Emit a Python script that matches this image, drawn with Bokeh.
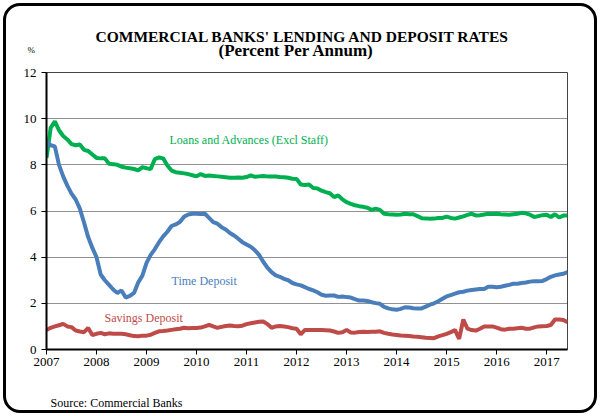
from bokeh.plotting import figure
from bokeh.models import Range1d, FixedTicker, Label, Title
from bokeh.embed import file_html
from bokeh.resources import INLINE
import numpy as np

# Monthly data, Jan 2007 .. Jun 2017
start_year = 2007
year_ticks = [2007, 2008, 2009, 2010, 2011, 2012, 2013, 2014, 2015, 2016, 2017]
y_ticks = [0, 2, 4, 6, 8, 10, 12]

loans = [
    8.30, 9.60, 9.88, 9.50, 9.25, 9.10, 8.90, 8.85, 8.88, 8.65, 8.60, 8.45,   # 2007
    8.30, 8.28, 8.28, 8.05, 8.03, 8.00, 7.92, 7.88, 7.85, 7.82, 7.76, 7.90,   # 2008
    7.85, 7.82, 8.25, 8.32, 8.28, 7.97, 7.75, 7.68, 7.66, 7.63, 7.60, 7.55,   # 2009
    7.50, 7.60, 7.52, 7.54, 7.52, 7.50, 7.48, 7.46, 7.44, 7.44, 7.45, 7.44,   # 2010
    7.47, 7.54, 7.48, 7.50, 7.52, 7.50, 7.50, 7.49, 7.47, 7.46, 7.44, 7.40,   # 2011
    7.39, 7.15, 7.13, 7.15, 7.00, 6.98, 6.88, 6.82, 6.77, 6.60, 6.68, 6.50,   # 2012
    6.38, 6.31, 6.25, 6.21, 6.18, 6.14, 6.05, 6.10, 6.05, 5.88, 5.86, 5.85,   # 2013
    5.84, 5.85, 5.88, 5.86, 5.86, 5.78, 5.69, 5.68, 5.66, 5.67, 5.70, 5.70,   # 2014
    5.76, 5.70, 5.67, 5.72, 5.77, 5.83, 5.88, 5.81, 5.82, 5.85, 5.88, 5.87,   # 2015
    5.88, 5.86, 5.85, 5.84, 5.86, 5.88, 5.92, 5.90, 5.84, 5.74, 5.78, 5.82,   # 2016
    5.84, 5.74, 5.86, 5.72, 5.80, 5.81,                                       # 2017
]

time_dep = [
    9.03, 8.85, 8.80, 8.00, 7.50, 7.10, 6.75, 6.50, 6.10, 5.50, 4.87, 4.40,   # 2007
    4.00, 3.25, 3.00, 2.80, 2.60, 2.45, 2.56, 2.25, 2.32, 2.45, 2.90, 3.20,   # 2008
    3.75, 4.10, 4.35, 4.65, 4.90, 5.10, 5.35, 5.42, 5.52, 5.75, 5.85, 5.88,   # 2009
    5.88, 5.87, 5.88, 5.70, 5.52, 5.45, 5.30, 5.20, 5.05, 4.94, 4.80, 4.65,   # 2010
    4.55, 4.45, 4.30, 4.10, 3.80, 3.55, 3.35, 3.21, 3.15, 3.06, 3.00, 2.88,   # 2011
    2.82, 2.78, 2.70, 2.62, 2.56, 2.48, 2.37, 2.33, 2.34, 2.34, 2.28, 2.30,   # 2012
    2.27, 2.25, 2.18, 2.12, 2.12, 2.10, 2.05, 2.01, 1.98, 1.85, 1.78, 1.74,   # 2013
    1.72, 1.76, 1.83, 1.82, 1.79, 1.78, 1.78, 1.86, 1.94, 2.00, 2.09, 2.20,   # 2014
    2.30, 2.36, 2.42, 2.48, 2.50, 2.55, 2.58, 2.60, 2.62, 2.62, 2.72, 2.72,   # 2015
    2.70, 2.72, 2.76, 2.80, 2.85, 2.85, 2.88, 2.90, 2.94, 2.96, 2.96, 2.97,   # 2016
    3.05, 3.15, 3.21, 3.25, 3.28, 3.35,                                       # 2017
]

savings = [
    0.85, 0.94, 1.00, 1.05, 1.11, 1.00, 0.97, 0.82, 0.78, 0.75, 0.93, 0.63,   # 2007
    0.68, 0.72, 0.66, 0.70, 0.68, 0.68, 0.68, 0.66, 0.62, 0.58, 0.57, 0.60,   # 2008
    0.60, 0.64, 0.72, 0.79, 0.80, 0.82, 0.85, 0.88, 0.90, 0.94, 0.92, 0.93,   # 2009
    0.93, 0.95, 1.00, 1.07, 1.00, 0.94, 0.98, 1.02, 1.04, 1.02, 1.01, 1.03,   # 2010
    1.10, 1.14, 1.17, 1.20, 1.21, 1.10, 0.94, 1.00, 1.02, 1.00, 0.97, 0.92,   # 2011
    0.90, 0.66, 0.85, 0.85, 0.85, 0.84, 0.84, 0.83, 0.82, 0.78, 0.72, 0.75,   # 2012
    0.85, 0.74, 0.73, 0.76, 0.77, 0.76, 0.77, 0.77, 0.79, 0.72, 0.68, 0.65,   # 2013
    0.63, 0.61, 0.60, 0.58, 0.56, 0.55, 0.53, 0.51, 0.50, 0.49, 0.57, 0.62,   # 2014
    0.68, 0.75, 0.85, 0.46, 1.30, 0.90, 0.84, 0.82, 0.90, 1.00, 1.00, 1.00,   # 2015
    0.95, 0.88, 0.86, 0.90, 0.90, 0.92, 0.94, 0.90, 0.90, 0.96, 1.00, 1.01,   # 2016
    1.02, 1.06, 1.30, 1.30, 1.28, 1.18,                                       # 2017
]

n = len(loans)
t = start_year + np.arange(n) / 12.0

GREEN = "#00B050"
BLUE = "#4A7EBB"
RED = "#BE4B48"
SERIF = "Liberation Serif"

W, H = 600, 416
FL, FR, FT, FB = 46, 33, 72, 67   # borders around the plot frame
p = figure(width=W, height=H, output_backend="svg", toolbar_location=None,
           x_range=Range1d(t[0], t[-1]), y_range=Range1d(0, 12),
           min_border_left=FL, min_border_right=FR, min_border_top=FT, min_border_bottom=FB)
p.title.visible = False
p.background_fill_color = "white"
p.border_fill_color = None          # transparent, so the host's rounded frame shows
p.outline_line_color = "#444444"
p.outline_line_width = 1
# rounded outer frame of the chart box
p.styles = {"background-color": "white", "outline": "3px solid black",
            "outline-offset": "-6px", "border-radius": "20px"}

p.line(t, loans, color=GREEN, line_width=4)
p.line(t, time_dep, color=BLUE, line_width=4)
p.line(t, savings, color=RED, line_width=4)

# axes
for ax in (p.xaxis[0], p.yaxis[0]):
    ax.axis_line_color = "black"
    ax.axis_line_width = 2
    ax.major_tick_line_color = "black"
    ax.major_tick_line_width = 1
    ax.major_tick_in = 0
    ax.major_tick_out = 5
    ax.minor_tick_line_color = None
    ax.major_label_text_font = SERIF
    ax.major_label_text_font_size = "13px"
    ax.major_label_text_color = "black"

p.xaxis[0].ticker = FixedTicker(ticks=year_ticks)
p.xaxis[0].major_label_standoff = 3
p.yaxis[0].ticker = FixedTicker(ticks=y_ticks)
p.yaxis[0].major_label_standoff = 5

p.xgrid.visible = False
p.ygrid[0].ticker = FixedTicker(ticks=[v for v in y_ticks if 0 < v < 12])
p.ygrid[0].grid_line_color = "#222222"
p.ygrid[0].grid_line_dash = "1 1"
p.ygrid[0].grid_line_width = 1

def side_title(text, side, size, standoff, offset=0, bold=False):
    p.add_layout(Title(text=text, align="left", offset=offset, standoff=standoff,
                       text_font=SERIF, text_font_size=size,
                       text_font_style="bold" if bold else "normal",
                       text_color="black"), side)

# above panel, from the frame outwards
side_title("\u00a0", "above", "9px", 12)                  # spacer
side_title("%", "above", "9px", -12, offset=-19)
side_title("(Percent Per Annum)", "above", "17px", -22, offset=172, bold=True)
side_title("COMMERCIAL BANKS' LENDING AND DEPOSIT RATES", "above", "15.5px", 8, offset=49, bold=True)

# below panel
side_title("\u00a0", "below", "12px", 17)                 # spacer
side_title("Source:  Commercial Banks", "below", "12px", -15, offset=4)

FRAME_BOTTOM = H - FB   # page y of frame bottom

def add_label(text, px, py, size, color):
    # frame-relative screen units, y up
    p.add_layout(Label(x=px - FL, y=FRAME_BOTTOM - py, x_units="screen", y_units="screen",
                       text=text, text_font=SERIF, text_font_size=size, text_color=color,
                       text_align="left", text_baseline="middle"))

add_label("Loans and Advances (Excl Staff)", 169, 139, "12px", GREEN)
add_label("Time Deposit", 171, 280, "12px", BLUE)
add_label("Savings Deposit", 104, 317, "12px", RED)

open("out.html", "w").write(file_html(p, INLINE))
